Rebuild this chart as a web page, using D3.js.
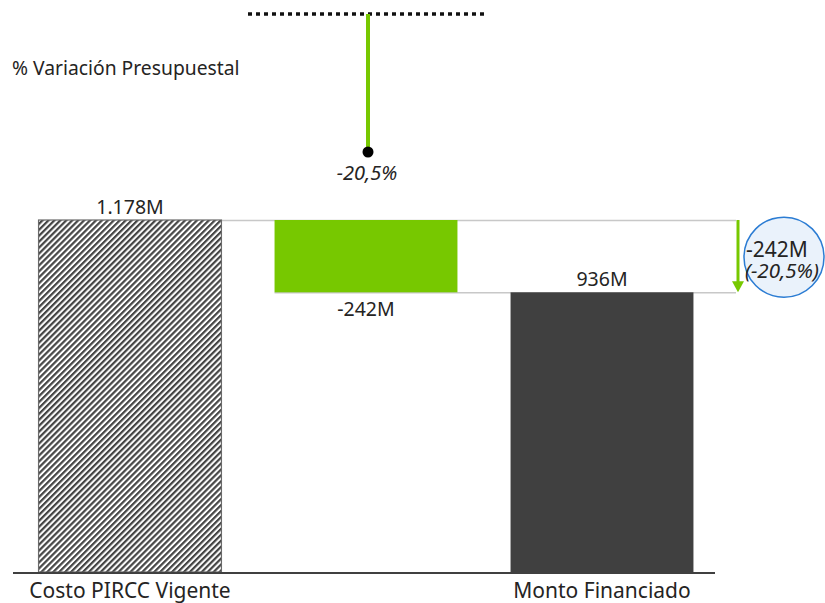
<!DOCTYPE html>
<html><head><meta charset="utf-8">
<script src="https://cdn.jsdelivr.net/npm/d3@7"></script>
<style>
body{margin:0;background:#fff;}
text{font-family:"Segoe UI","Noto Sans","Open Sans",sans-serif;fill:#252423;}
</style></head>
<body><svg id="c" width="825" height="603"></svg>
<script>
const categories = ["Costo PIRCC Vigente", "", "Monto Financiado"];
const kinds = ["total", "delta", "total"];
const values = [1178, -242, 936];
const valueLabels = ["1.178M", "-242M", "936M"];
const variationPct = -20.5;
const variationLabel = "-20,5%";
const title = "% Variación Presupuestal";

const svg = d3.select("#c");
const defs = svg.append("defs");
const pw = 4.2;
const pat = defs.append("pattern").attr("id","hatch").attr("patternUnits","userSpaceOnUse")
  .attr("width",pw).attr("height",pw).attr("patternTransform","rotate(45)");
pat.append("rect").attr("width",pw).attr("height",pw).attr("fill","#fff");
pat.append("rect").attr("width",2.2).attr("height",pw).attr("fill","#454545");

const ids = categories.map((c,i)=>"c"+i);
const x = d3.scaleBand().domain(ids).range([12,720]).paddingInner(0.225).paddingOuter(0.1125);
const y = d3.scaleLinear().domain([0, 1178]).range([572, 220]);
const p = d3.scaleLinear().domain([0, variationPct]).range([14, 152]);

let run = 0;
const segs = values.map((v,i)=>{
  let y0, y1;
  if (kinds[i]==="total"){ y0=0; y1=v; run=v; }
  else { y0=run; y1=run+v; run=run+v; }
  return {id:ids[i], v, y0, y1, kind:kinds[i], label:valueLabels[i], cat:categories[i]};
});

// connector lines
const endX = 736;
svg.append("line").attr("x1",x(ids[0])+x.bandwidth()).attr("x2",endX)
  .attr("y1",y(segs[0].y1)+0.5).attr("y2",y(segs[0].y1)+0.5).attr("stroke","#c8c8c8").attr("stroke-width",1.5);
svg.append("line").attr("x1",x(ids[1])).attr("x2",endX)
  .attr("y1",y(segs[1].y1)+0.5).attr("y2",y(segs[1].y1)+0.5).attr("stroke","#c8c8c8").attr("stroke-width",1.5);

// bars
segs.forEach((s,i)=>{
  const top = y(Math.max(s.y0,s.y1)), bot = y(Math.min(s.y0,s.y1));
  const r = svg.append("rect").attr("x",x(s.id)).attr("width",x.bandwidth())
    .attr("y",top).attr("height",bot-top);
  if (i===0) r.attr("fill","url(#hatch)").attr("stroke","#6a6a6a").attr("stroke-width",1.2);
  else if (s.kind==="delta") r.attr("fill","#77c800");
  else r.attr("fill","#404040");
});

// value labels
const cx = id => x(id)+x.bandwidth()/2;
svg.append("text").attr("x",cx(ids[0])).attr("y",y(segs[0].y1)-6).attr("text-anchor","middle")
  .attr("font-size",19.5).text(segs[0].label);
svg.append("text").attr("x",cx(ids[1])).attr("y",y(segs[1].y1)+24).attr("text-anchor","middle")
  .attr("font-size",19.5).text(segs[1].label);
svg.append("text").attr("x",cx(ids[2])).attr("y",y(segs[2].y1)-6).attr("text-anchor","middle")
  .attr("font-size",19.5).text(segs[2].label);

// baseline
svg.append("line").attr("x1",13).attr("x2",715).attr("y1",y(0)+1).attr("y2",y(0)+1)
  .attr("stroke","#404040").attr("stroke-width",2);

// category labels
segs.forEach(s=>{
  svg.append("text").attr("x",cx(s.id)).attr("y",598).attr("text-anchor","middle")
    .attr("font-size",21).text(s.cat);
});

// variance arrow at right
const ax = 738;
const yb = y(segs[1].y1);
svg.append("line").attr("x1",ax).attr("x2",ax).attr("y1",y(segs[0].y1)).attr("y2",yb-9)
  .attr("stroke","#77c800").attr("stroke-width",3);
svg.append("path").attr("d",`M${ax-6},${yb-11}L${ax+6},${yb-11}L${ax},${yb}Z`)
  .attr("fill","#77c800");
const ccy = (y(segs[0].y1)+yb)/2 + 1;
svg.append("circle").attr("cx",784).attr("cy",ccy).attr("r",40)
  .attr("fill","#eaf2fb").attr("stroke","#2b7cd3").attr("stroke-width",1.5);
svg.append("text").attr("x",746).attr("y",ccy).attr("font-size",21)
  .text(valueLabels[1]);
svg.append("text").attr("x",745).attr("y",ccy+21).attr("font-size",20.5)
  .attr("font-style","italic").text("(" + variationLabel + ")");

// title
svg.append("text").attr("x",12).attr("y",75).attr("font-size",19.3).text(title);

// pin chart
const mid = cx(ids[1]);
svg.append("line").attr("x1",mid - x.step()/2).attr("x2",mid + x.step()/2)
  .attr("y1",p(0)).attr("y2",p(0)).attr("stroke","#111").attr("stroke-width",3.5)
  .attr("stroke-dasharray","4,4");
svg.append("line").attr("x1",mid+2).attr("x2",mid+2).attr("y1",p(0)).attr("y2",p(variationPct))
  .attr("stroke","#77c800").attr("stroke-width",4);
svg.append("circle").attr("cx",mid+2).attr("cy",p(variationPct)).attr("r",5.5).attr("fill","#000");
svg.append("text").attr("x",mid+1).attr("y",p(variationPct)+28).attr("text-anchor","middle")
  .attr("font-size",20).attr("font-style","italic").text(variationLabel);
</script></body></html>
